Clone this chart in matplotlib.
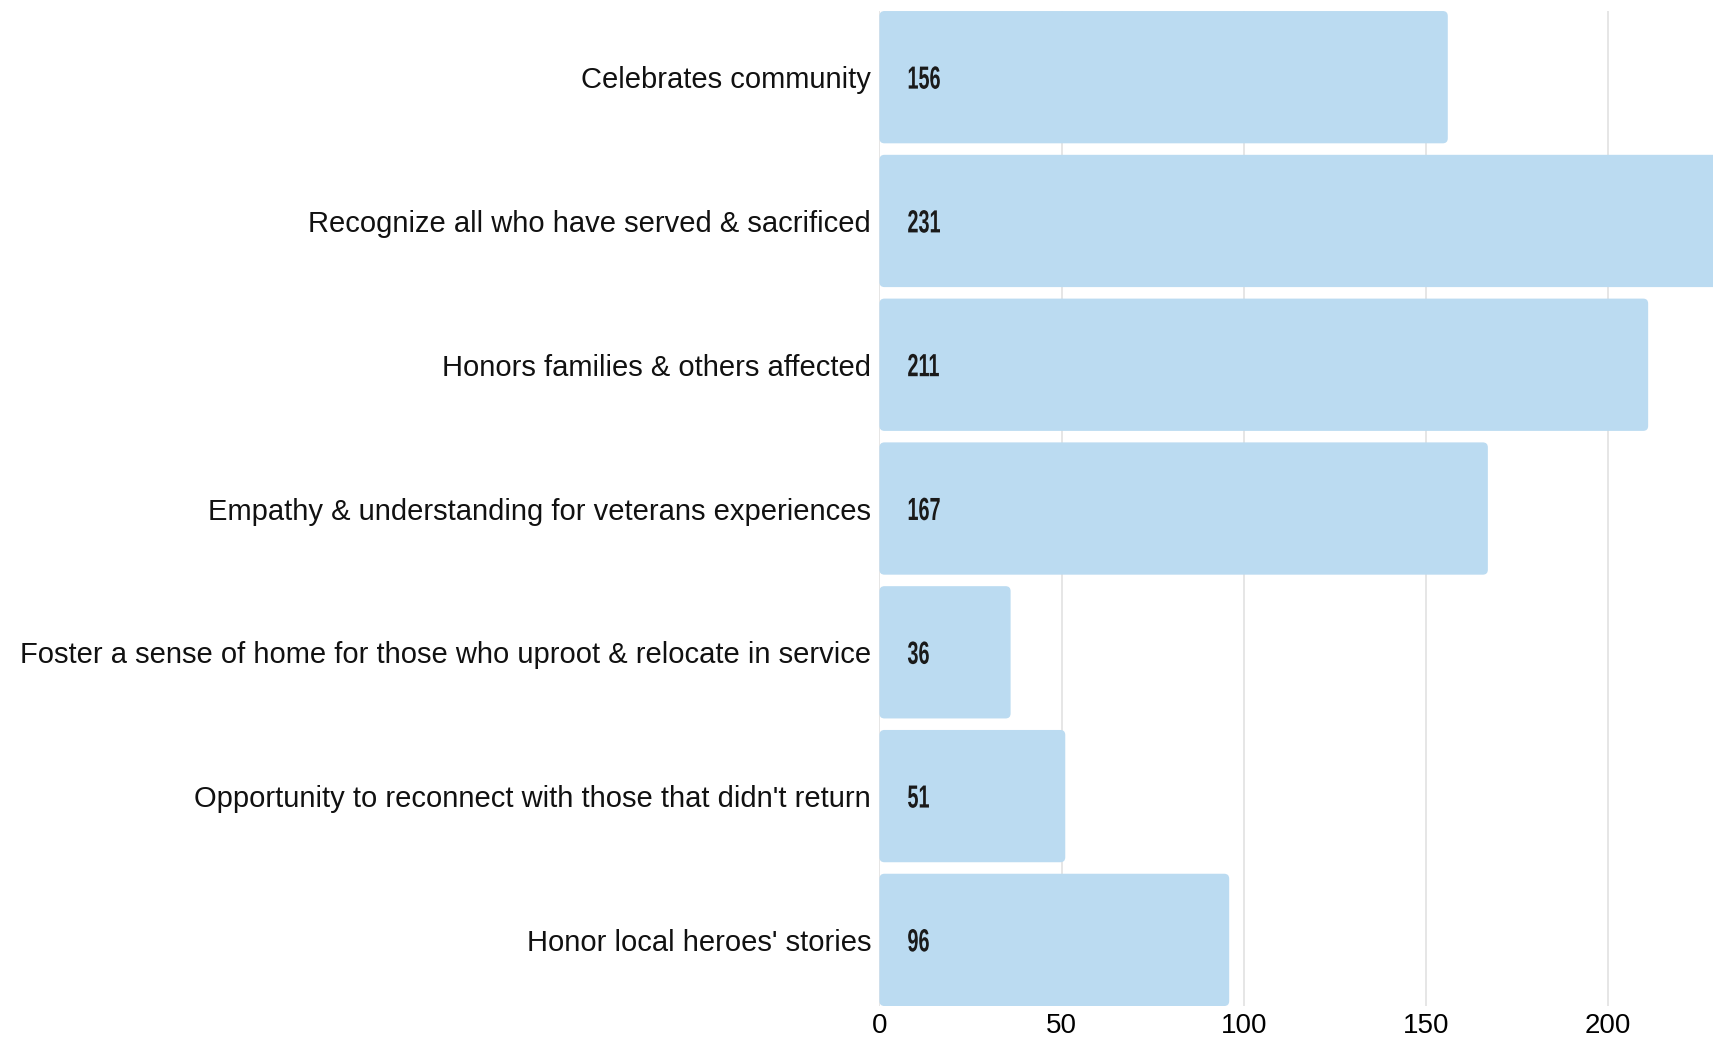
import matplotlib
matplotlib.use("Agg")
import matplotlib.pyplot as plt
from matplotlib.patches import FancyBboxPatch, PathPatch
from matplotlib.textpath import TextPath
from matplotlib.font_manager import FontProperties
from matplotlib.transforms import Affine2D, ScaledTranslation

# data
categories = [
    "Celebrates community",
    "Recognize all who have served & sacrificed",
    "Honors families & others affected",
    "Empathy & understanding for veterans experiences",
    "Foster a sense of home for those who uproot & relocate in service",
    "Opportunity to reconnect with those that didn't return",
    "Honor local heroes' stories",
]
counts = [156, 231, 211, 167, 36, 51, 96]
xticks = [0, 50, 100, 150, 200]

bar_color = "#bbdbf1"
grid_color = "#e2e2e2"

fig = plt.figure(figsize=(17.13, 10.41), dpi=100)
ax = fig.add_axes([0.5134, 0.0336, 0.4866, 0.9558])

ypos = list(range(len(categories)))
bars = ax.barh(ypos, counts, height=0.92, color=bar_color, zorder=2)

xmax = 228.8
ax.set_xlim(0, xmax)
ax.set_ylim(len(categories) - 1 + 0.46, -0.46)

# swap plain bars for ones with slightly rounded corners
px_x = ax.bbox.width / xmax            # pixels per x unit
px_y = ax.bbox.height / (len(categories) - 0.08)
r = 5 / px_x
for b in bars:
    b.set_visible(False)
    ax.add_patch(FancyBboxPatch((b.get_x(), b.get_y()), b.get_width(), b.get_height(),
                                boxstyle=f"round,pad=0,rounding_size={r}",
                                mutation_aspect=(5 / px_y) / r,
                                fc=bar_color, ec="none", zorder=2))

ax.set_xticks(xticks)
ax.set_xticklabels([str(t) for t in xticks], fontsize=20, family="Liberation Sans")
ax.set_yticks(ypos)
ax.set_yticklabels(categories, fontsize=21, family="Liberation Sans", color="#111111")
ax.tick_params(axis="both", length=0)
ax.tick_params(axis="y", pad=6)
ax.tick_params(axis="x", pad=5)

ax.grid(axis="x", color=grid_color, lw=1.2, zorder=0)
ax.grid(axis="y", visible=False)
for s in ax.spines.values():
    s.set_visible(False)

# value labels inside the bars, in a narrow bold face (squeezed text path)
fp = FontProperties(family="Liberation Sans", weight="bold")
em = 32      # pixels
squeeze = 0.62
for b, v in zip(bars, counts):
    tp = TextPath((0, 0), str(v), size=1, prop=fp)
    yc = b.get_y() + b.get_height() / 2
    tr = (Affine2D().scale(em * squeeze, em).translate(28, -0.716 * em / 2)
          + ScaledTranslation(0, yc, ax.transData))
    ax.add_patch(PathPatch(tp, transform=tr, fc="#1a1a1a", ec="none", zorder=3))

plt.savefig("out.png", dpi=100)
